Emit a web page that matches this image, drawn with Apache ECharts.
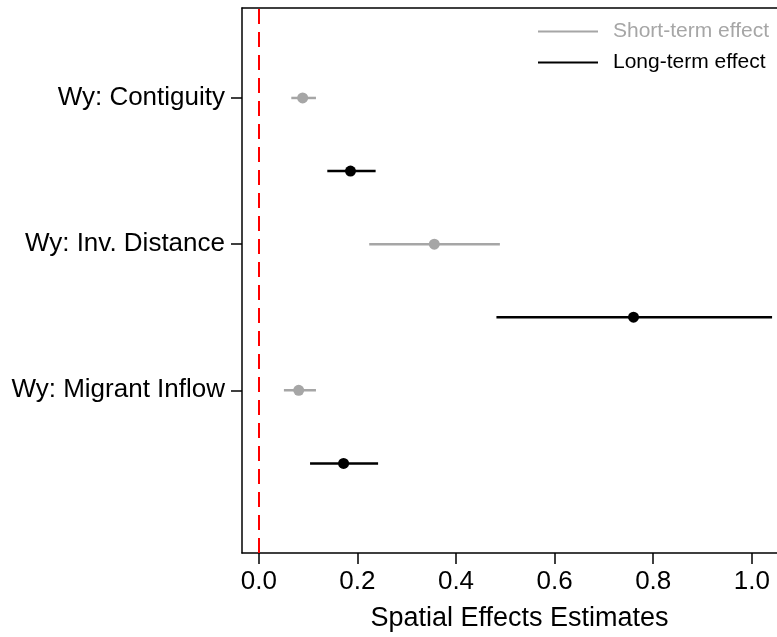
<!DOCTYPE html>
<html>
<head>
<meta charset="utf-8">
<script src="https://cdn.jsdelivr.net/npm/echarts@6/dist/echarts.min.js"></script>
<style>
  html, body { margin: 0; padding: 0; background: #fff; }
  #chart { width: 777px; height: 637px; }
</style>
</head>
<body>
<div id="chart"></div>
<script>
// rows, top to bottom
const rowLabels = ['Wy: Contiguity', 'Wy: Inv. Distance', 'Wy: Migrant Inflow'];
const shortPos = [6, 4, 2];
const longPos = [5, 3, 1];

// short-term effects: estimate and interval
const shortEst = [0.089, 0.356, 0.081];
const shortLo = [0.066, 0.224, 0.051];
const shortHi = [0.116, 0.489, 0.116];

// long-term effects
const longEst = [0.186, 0.760, 0.172];
const longLo = [0.139, 0.482, 0.104];
const longHi = [0.237, 1.041, 0.242];

const xTicks = [0, 0.2, 0.4, 0.6, 0.8, 1.0];

const FONT = '"Liberation Sans", Arial, Helvetica, sans-serif';
const GREY = '#a6a6a6';
const BLACK = '#000000';

function rows(lo, hi, est, pos) {
    return est.map((e, i) => [lo[i], hi[i], e, pos[i]]);
}

function makeRender(color) {
    return function (params, api) {
        const y = api.value(3);
        const a = api.coord([api.value(0), y]);
        const b = api.coord([api.value(1), y]);
        const c = api.coord([api.value(2), y]);
        return {
            type: 'group',
            children: [
                {type: 'line', shape: {x1: a[0], y1: a[1], x2: b[0], y2: b[1]},
                 style: {stroke: color, lineWidth: 2.5}},
                {type: 'circle', shape: {cx: c[0], cy: c[1], r: 5.5},
                 style: {fill: color}}
            ]
        };
    };
}

const labelAt = {};
shortPos.forEach((p, i) => { labelAt[p] = rowLabels[i]; });

const axisLineStyle = {color: '#000', width: 1.5};

const chart = echarts.init(document.getElementById('chart'));
chart.setOption({
    animation: false,
    backgroundColor: '#fff',
    grid: {left: 242, top: 8, bottom: 84, right: 0},
    legend: {
        orient: 'vertical',
        left: 533, top: 16,
        itemWidth: 60, itemHeight: 2, itemGap: 10,
        icon: 'rect',
        textStyle: {fontFamily: FONT, fontSize: 21, padding: [0, 0, 0, 10]},
        data: [
            {name: 'Short-term effect', textStyle: {color: GREY}},
            {name: 'Long-term effect', textStyle: {color: BLACK}}
        ]
    },
    xAxis: [{
        type: 'value',
        min: -0.034, max: 1.051,
        splitLine: {show: false},
        axisLine: {show: true, onZero: false, lineStyle: axisLineStyle},
        axisTick: {show: true, length: 11, customValues: xTicks, lineStyle: axisLineStyle},
        axisLabel: {
            customValues: xTicks, margin: 16, color: '#000',
            fontFamily: FONT, fontSize: 26,
            formatter: v => v.toFixed(1)
        },
        name: 'Spatial Effects Estimates',
        nameLocation: 'middle',
        nameGap: 52,
        nameTextStyle: {fontFamily: FONT, fontSize: 27, color: '#000', padding: [0, 0, 0, 20]}
    }, {
        // top frame line only
        type: 'value',
        position: 'top',
        min: -0.034, max: 1.051,
        splitLine: {show: false},
        axisLine: {show: true, onZero: false, lineStyle: axisLineStyle},
        axisTick: {show: false},
        axisLabel: {show: false}
    }],
    yAxis: {
        type: 'value',
        min: -0.226, max: 7.231,
        splitLine: {show: false},
        axisLine: {show: true, onZero: false, lineStyle: axisLineStyle},
        axisTick: {show: true, length: 11, customValues: shortPos, lineStyle: axisLineStyle},
        axisLabel: {
            customValues: shortPos, margin: 17, color: '#000',
            fontFamily: FONT, fontSize: 26,
            formatter: v => labelAt[v] || ''
        }
    },
    series: [
        {
            name: 'Short-term effect',
            type: 'custom',
            color: GREY,
            itemStyle: {color: GREY},
            renderItem: makeRender(GREY),
            encode: {x: [0, 1, 2], y: 3},
            data: rows(shortLo, shortHi, shortEst, shortPos),
            markLine: {
                silent: true,
                symbol: ['none', 'none'],
                label: {show: false},
                lineStyle: {color: '#ff0000', type: [15, 8], width: 2},
                data: [{xAxis: 0}]
            }
        },
        {
            name: 'Long-term effect',
            type: 'custom',
            color: BLACK,
            itemStyle: {color: BLACK},
            renderItem: makeRender(BLACK),
            encode: {x: [0, 1, 2], y: 3},
            data: rows(longLo, longHi, longEst, longPos)
        }
    ]
});
</script>
</body>
</html>
